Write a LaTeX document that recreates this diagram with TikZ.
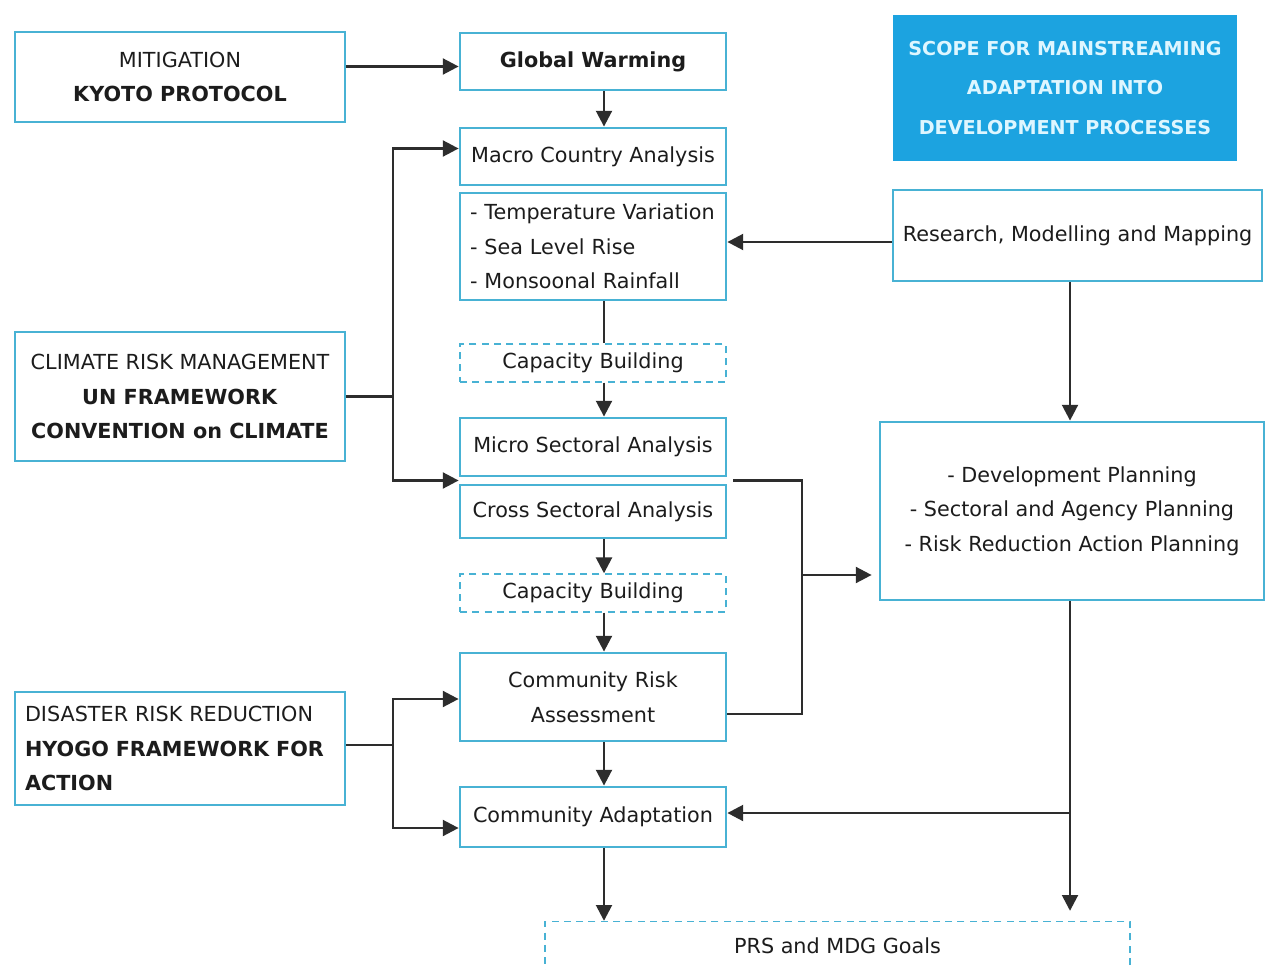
\documentclass[tikz,border=0pt]{standalone}
\usepackage{fontspec}
\setmainfont{DejaVu Sans}
\usetikzlibrary{arrows.meta,calc}
\definecolor{bordercol}{RGB}{72,178,212}
\definecolor{scopecol}{RGB}{28,163,224}
\definecolor{scopetext}{RGB}{222,246,255}
\definecolor{linecol}{RGB}{45,45,45}
\definecolor{textcol}{RGB}{28,28,28}
\tikzset{
  box/.style={draw=bordercol, line width=1.6pt, fill=white, text=textcol, inner sep=0pt,
              font=\fontsize{11.8}{19.7}\selectfont, align=center},
  dbox/.style={draw=bordercol, line width=0.8pt, dash pattern=on 4pt off 3pt, fill=white,
              text=textcol, inner sep=0pt, font=\fontsize{11.8}{19.7}\selectfont, align=center},
  conn/.style={draw=linecol, line width=1.5pt},
  arr/.style={conn, -{Triangle[length=9pt,width=9pt]}},
}
\begin{document}
\begin{tikzpicture}[x=0.02cm,y=-0.02cm]
\useasboundingbox (0,0) rectangle (1266,969);
\clip (0,0) rectangle (1266,969);
\fill[white] (0,0) rectangle (1266,969);

% left boxes
\node[box, minimum width=6.6cm, minimum height=1.8cm] (mit) at (180,77)
  {MITIGATION\\\textbf{KYOTO PROTOCOL}};
\node[box, minimum width=6.6cm, minimum height=2.58cm] (crm) at (180,396.5)
  {CLIMATE RISK MANAGEMENT\\\textbf{UN FRAMEWORK}\\\textbf{CONVENTION on CLIMATE}};
\node[box, minimum width=6.6cm, minimum height=2.26cm, text width=6.2cm, align=left] (drr) at (180,748.5)
  {DISASTER RISK REDUCTION\\\textbf{HYOGO FRAMEWORK FOR}\\\textbf{ACTION}};

% central column
\node[box, minimum width=5.32cm, minimum height=1.14cm] (gw) at (593,61.5) {\textbf{Global Warming}};
\node[box, minimum width=5.32cm, minimum height=1.14cm] (macro) at (593,156.5) {Macro Country Analysis};
\node[box, minimum width=5.32cm, minimum height=2.14cm, text width=4.92cm, align=left] (list) at (593,246.5)
  {- Temperature Variation\\- Sea Level Rise\\- Monsoonal Rainfall};
\node[dbox, minimum width=5.32cm, minimum height=0.76cm] (cap1) at (593,363) {Capacity Building};
\node[box, minimum width=5.32cm, minimum height=1.16cm] (micro) at (593,447) {Micro Sectoral Analysis};
\node[box, minimum width=5.32cm, minimum height=1.06cm] (cross) at (593,511.5) {Cross Sectoral Analysis};
\node[dbox, minimum width=5.32cm, minimum height=0.76cm] (cap2) at (593,593) {Capacity Building};
\node[box, minimum width=5.32cm, minimum height=1.76cm] (cra) at (593,697) {Community Risk\\Assessment};
\node[box, minimum width=5.32cm, minimum height=1.2cm] (ca) at (593,817) {Community Adaptation};
\node[dbox, minimum width=11.7cm, minimum height=0.98cm] (prs) at (837.5,946) {PRS and MDG Goals};

% right column
\node[fill=scopecol, minimum width=6.88cm, minimum height=2.92cm, inner sep=0pt, align=center,
      text=scopetext, font=\fontsize{10.9}{22.6}\selectfont\bfseries] (scope) at (1065,88)
  {SCOPE FOR MAINSTREAMING\\ADAPTATION INTO\\DEVELOPMENT PROCESSES};
\node[box, minimum width=7.38cm, minimum height=1.82cm] (res) at (1077.5,235.5) {Research, Modelling and Mapping};
\node[box, minimum width=7.68cm, minimum height=3.56cm] (plan) at (1072,511)
  {- Development Planning\\- Sectoral and Agency Planning\\- Risk Reduction Action Planning};

% junction coordinates
\coordinate (jc) at (393,396.5);
\coordinate (jd) at (393,745);
\coordinate (jm) at (802,575);

% connectors
\draw[arr] ([yshift=-0.1cm]mit.east |- gw.west) -- ([yshift=-0.1cm]gw.west);
\draw[arr] ([xshift=0.22cm]gw.south) -- ([xshift=0.22cm]macro.north);
\draw[conn] (crm.east) -- (jc);
\draw[arr] (jc) |- ([yshift=0.16cm]macro.west);
\draw[arr] (jc) |- ($(micro.south west)!0.5!(cross.north west)$);
\draw[conn] ([xshift=0.22cm]list.south) -- ([xshift=0.22cm]cap1.north);
\draw[arr] ([xshift=0.22cm]cap1.south) -- ([xshift=0.22cm]micro.north);
\draw[arr] ([xshift=0.22cm]cross.south) -- ([xshift=0.22cm]cap2.north);
\draw[arr] ([xshift=0.22cm]cap2.south) -- ([xshift=0.22cm]cra.north);
\draw[arr] ([xshift=0.22cm]cra.south) -- ([xshift=0.22cm]ca.north);
\draw[arr] ([xshift=0.22cm]ca.south) -- ([xshift=0.22cm]ca.south |- prs.north);
\draw[arr] ([yshift=-0.13cm]res.west) -- ([yshift=-0.13cm]list.east |- res.west);
\draw[arr] ([xshift=-0.04cm]plan.north |- res.south) -- ([xshift=-0.04cm]plan.north);
\draw[conn] ([xshift=0.12cm]$(micro.south east)!0.5!(cross.north east)$) -| (jm) |- ([yshift=-0.34cm]cra.east);
\draw[arr] (jm) -- ([xshift=-0.14cm]jm -| plan.west);
\draw[arr, shorten >=0.2cm] ([xshift=-0.04cm]plan.south) -- ([xshift=-0.04cm]plan.south |- prs.north);
\draw[arr] ([xshift=-0.04cm,yshift=0.08cm]plan.south |- ca.east) -- ([yshift=0.08cm]ca.east);
\draw[conn] (drr.east |- jd) -- (jd);
\draw[arr] (jd) |- ([yshift=-0.04cm]cra.west);
\draw[arr] (jd) |- ([yshift=-0.22cm]ca.west);
\end{tikzpicture}
\end{document}
